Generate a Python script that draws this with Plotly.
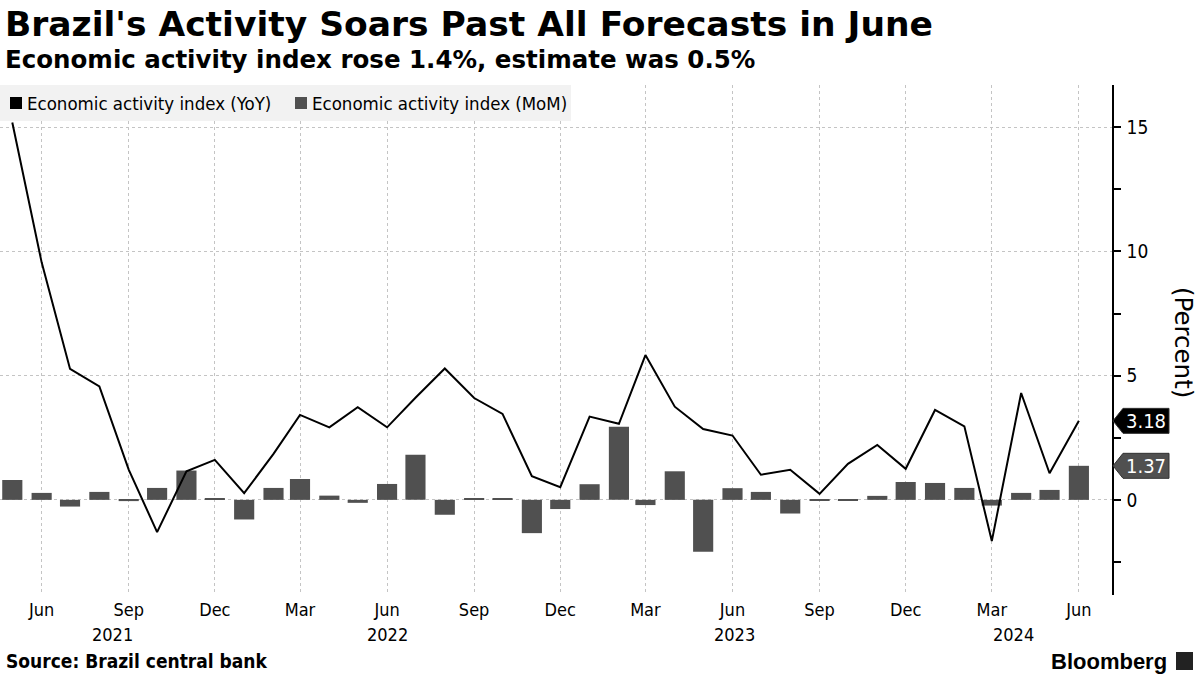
import plotly.graph_objects as go
import pandas as pd

# ---------------- data ----------------
MONTHS = pd.date_range("2021-05-01", "2024-06-01", freq="MS").strftime("%Y-%m-%d").tolist()

YOY = [15.19, 9.56, 5.27, 4.57, 1.22, -1.30, 1.15, 1.61, 0.27, 1.85,
       3.42, 2.92, 3.73, 2.92, 4.11, 5.29, 4.10, 3.46, 0.95, 0.51,
       3.35, 3.06, 5.83, 3.75, 2.85, 2.59, 1.01, 1.21, 0.24, 1.45,
       2.21, 1.25, 3.62, 2.96, -1.66, 4.30, 1.07, 3.18]

MOM = [0.80, 0.28, -0.27, 0.32, -0.05, 0.48, 1.18, 0.04, -0.79, 0.48,
       0.84, 0.17, -0.12, 0.64, 1.82, -0.60, 0.05, 0.05, -1.34, -0.37,
       0.63, 2.94, -0.21, 1.15, -2.09, 0.47, 0.32, -0.55, -0.02, -0.02,
       0.16, 0.72, 0.68, 0.48, -0.23, 0.28, 0.40, 1.37]

TICK_DATES = pd.date_range("2021-06-01", "2024-06-01", freq="3MS").strftime("%Y-%m-%d").tolist()
TICK_TEXT = [pd.Timestamp(d).strftime("%b") for d in TICK_DATES]

YEAR_LABELS = ["2021", "2022", "2023", "2024"]
YEAR_LABEL_POS = ["2021-08-15", "2022-06-01", "2023-06-03", "2024-03-24"]

SERIES_NAMES = ["Economic activity index (YoY)", "Economic activity index (MoM)"]
LAST_LABELS = ["3.18", "1.37"]

TITLE = "Brazil's Activity Soars Past All Forecasts in June"
SUBTITLE = "Economic activity index rose 1.4%, estimate was 0.5%"
SOURCE = "Source: Brazil central bank"

# ---------------- styling ----------------
LINE_COLOR = "#000000"
BAR_COLOR = "#505050"
GRID_COLOR = "#c4c4c4"
FONT = "DejaVu Sans"
FONT_C = "DejaVu Sans Condensed, DejaVu Sans"

W, H = 1200, 675
ML, MR, MT, MB = 0, 88, 85, 80
PW = W - ML - MR
PH = H - MT - MB
Y_RANGE = [-3.83, 16.7]
PX_Y = (Y_RANGE[1] - Y_RANGE[0]) / PH  # data units per pixel


def px(xp):
    """pixel x -> paper x"""
    return (xp - ML) / PW


def py(yp):
    """pixel y -> paper y"""
    return (H - MB - yp) / PH


fig = go.Figure()

fig.add_trace(go.Bar(
    x=MONTHS, y=MOM, marker=dict(color=BAR_COLOR, line=dict(width=0)),
    showlegend=False, name=SERIES_NAMES[1]
))
fig.add_trace(go.Scatter(
    x=MONTHS, y=YOY, mode="lines", line=dict(color=LINE_COLOR, width=2),
    showlegend=False, name=SERIES_NAMES[0]
))

fig.update_layout(
    width=W, height=H,
    margin=dict(l=ML, r=MR, t=MT, b=MB),
    paper_bgcolor="white", plot_bgcolor="white",
    bargap=0.24,
    font=dict(family=FONT_C, color="#000000", size=16),
    showlegend=False,
    xaxis=dict(
        type="date",
        range=["2021-04-18", "2024-07-06"],
        tickvals=TICK_DATES, ticktext=TICK_TEXT,
        showgrid=True, gridcolor=GRID_COLOR, griddash="dot", gridwidth=1,
        ticks="", showline=False, zeroline=False,
        tickfont=dict(family=FONT_C, size=18, color="#000"),
        ticklabelstandoff=2,
    ),
    yaxis=dict(
        side="right", range=Y_RANGE,
        tickvals=[0, 5, 10, 15],
        showgrid=True, gridcolor=GRID_COLOR, griddash="dot", gridwidth=1,
        zeroline=False,
        showline=True, linecolor="#000", linewidth=1.5,
        ticks="outside", ticklen=7, tickcolor="#000", tickwidth=1.5,
        minor=dict(tickvals=[-2.5, 2.5, 7.5, 12.5], ticks="outside", ticklen=7,
                   tickcolor="#000", tickwidth=1.5, showgrid=False),
        tickfont=dict(family=FONT_C, size=19, color="#000"),
        ticklabelstandoff=2,
    ),
)

# custom legend (gray strip with square swatches)
fig.add_shape(type="rect", xref="paper", yref="paper",
              x0=px(0), x1=px(571), y0=py(121), y1=py(85),
              fillcolor="#f2f2f2", line=dict(width=0), layer="above")
legend_x = [(10, 25), (295, 310)]
for (sx, tx), name, col in zip(legend_x, SERIES_NAMES, [LINE_COLOR, BAR_COLOR]):
    fig.add_shape(type="rect", xref="paper", yref="paper",
                  x0=px(sx), x1=px(sx + 12), y0=py(109), y1=py(97),
                  fillcolor=col, line=dict(width=0), layer="above")
    fig.add_annotation(text=name, xref="paper", yref="paper",
                       x=px(tx), y=py(103), xanchor="left", yanchor="middle",
                       showarrow=False,
                       font=dict(family=FONT_C, size=18.5, color="#000"))

# titles
fig.add_annotation(text="<b>" + TITLE + "</b>", xref="paper", yref="paper",
                   x=px(3), y=py(24), xanchor="left", yanchor="middle",
                   showarrow=False,
                   font=dict(family=FONT, size=34.5, color="#000"))
fig.add_annotation(text="<b>" + SUBTITLE + "</b>", xref="paper", yref="paper",
                   x=px(3), y=py(60), xanchor="left", yanchor="middle",
                   showarrow=False,
                   font=dict(family=FONT, size=24.5, color="#000"))
fig.add_annotation(text="<b>" + SOURCE + "</b>", xref="paper", yref="paper",
                   x=px(4), y=py(661), xanchor="left", yanchor="middle",
                   showarrow=False,
                   font=dict(family=FONT_C, size=19, color="#000"))
fig.add_annotation(text="<b>Bloomberg</b>", xref="paper", yref="paper",
                   x=px(1169), y=py(661), xanchor="right", yanchor="middle",
                   showarrow=False,
                   font=dict(family="Liberation Sans", size=22, color="#000"))
# small logo box next to Bloomberg
fig.add_shape(type="rect", xref="paper", yref="paper",
              x0=px(1176), x1=px(1193), y0=py(670), y1=py(652),
              fillcolor="#222", line=dict(width=0))

# year labels
for lab, pos in zip(YEAR_LABELS, YEAR_LABEL_POS):
    fig.add_annotation(text=lab, x=pos, xref="x", yref="paper", y=py(634),
                       yanchor="middle", showarrow=False,
                       font=dict(family=FONT_C, size=18, color="#000"))

# y axis title
fig.add_annotation(text="(Percent)", xref="paper", yref="paper",
                   x=px(1184), y=py(342), xanchor="center", yanchor="middle",
                   textangle=90, showarrow=False,
                   font=dict(family=FONT, size=24.5, color="#000"))

# last-value labels with pointed boxes
last_vals = [YOY[-1], MOM[-1]]
fills = ["#000000", "#505050"]
for lab, v, fc in zip(LAST_LABELS, last_vals, fills):
    tip, body, right = px(1113), px(1123), px(1169)
    hh = 12.5 * PX_Y
    path = (f"M {tip},{v} L {body},{v + hh} L {right},{v + hh} "
            f"L {right},{v - hh} L {body},{v - hh} Z")
    fig.add_shape(type="path", path=path, xref="paper", yref="y",
                  fillcolor=fc, line=dict(color="#303030", width=1), layer="above")
    fig.add_annotation(text=lab, xref="paper", yref="y", x=px(1146), y=v,
                       xanchor="center", yanchor="middle", showarrow=False,
                       font=dict(family=FONT_C, size=20, color="#ffffff"))

fig.write_html("out.html", config={"displayModeBar": False},
               post_script="document.body.style.margin='0px';document.body.style.overflow='hidden';")
